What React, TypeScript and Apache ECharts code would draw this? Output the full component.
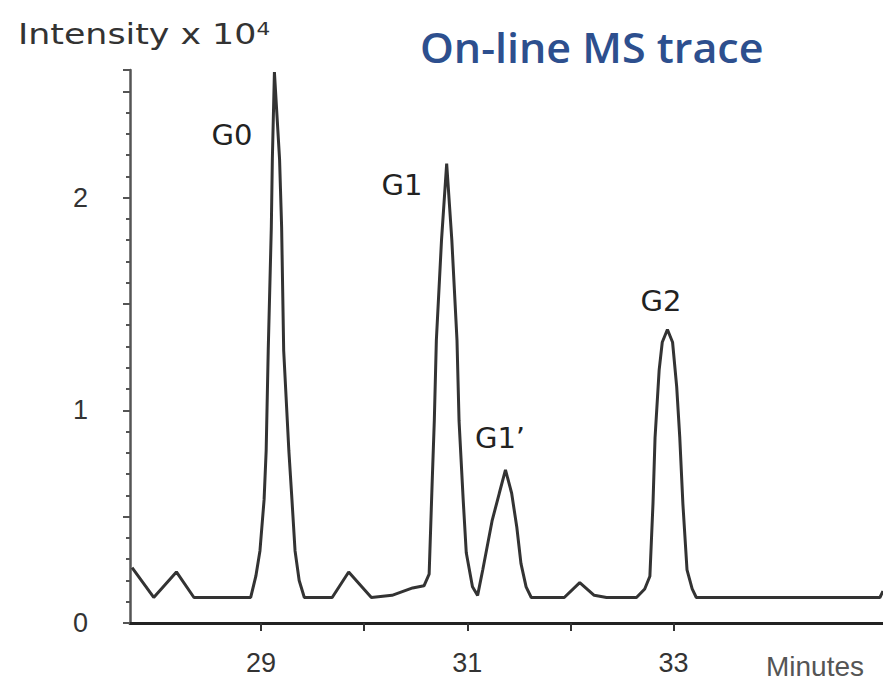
import { useEffect, useRef } from "react";
import * as echarts from "echarts";

// Retention time (minutes) vs intensity (x 10^4)
const msTrace: [number, number][] = [
  [27.75, 0.26], [27.96, 0.12], [28.18, 0.24], [28.35, 0.12], [28.9, 0.12],
  [28.95, 0.22], [28.99, 0.34], [29.03, 0.58], [29.05, 0.81], [29.07, 1.28],
  [29.1, 1.86], [29.11, 2.18], [29.13, 2.59], [29.18, 2.18], [29.2, 1.86],
  [29.22, 1.28], [29.27, 0.81], [29.3, 0.58], [29.33, 0.34], [29.37, 0.2],
  [29.42, 0.12], [29.69, 0.12], [29.85, 0.24], [30.07, 0.12], [30.27, 0.13],
  [30.47, 0.165], [30.58, 0.175], [30.63, 0.23], [30.66, 0.67], [30.68, 0.95],
  [30.7, 1.33], [30.75, 1.8], [30.8, 2.16], [30.85, 1.8], [30.9, 1.33],
  [30.92, 0.95], [30.96, 0.58], [30.99, 0.33], [31.05, 0.17], [31.1, 0.13],
  [31.15, 0.25], [31.24, 0.48], [31.31, 0.61], [31.37, 0.72], [31.43, 0.61],
  [31.48, 0.45], [31.52, 0.28], [31.57, 0.17], [31.62, 0.12], [31.94, 0.12],
  [32.09, 0.19], [32.23, 0.13], [32.35, 0.12], [32.64, 0.12], [32.72, 0.16],
  [32.77, 0.22], [32.8, 0.56], [32.82, 0.87], [32.86, 1.19], [32.89, 1.32],
  [32.94, 1.38], [32.99, 1.32], [33.03, 1.11], [33.06, 0.87], [33.09, 0.56],
  [33.13, 0.25], [33.18, 0.16], [33.22, 0.12], [35.0, 0.12], [35.03, 0.15],
];

const xTickValues = [29, 30, 31, 32, 33];
const xLabelValues = [29, 31, 33];
const yLabelValues = [0, 1, 2];
const peakNames = ["G0", "G1", "G1\u2019", "G2"];
const titleText = "On-line MS trace";
const yTitleMain = "Intensity x 10";
const yTitleExp = "4";
const xTitle = "Minutes";

const peakPos: [number, number][] = [
  [232, 135],
  [402, 185],
  [500, 438],
  [661, 301],
];

export default function App() {
  const ref = useRef<HTMLDivElement>(null);

  useEffect(() => {
    document.body.style.margin = "0";
    const chart = echarts.init(ref.current!, null, { renderer: "svg" });
    chart.setOption({
      animation: false,
      backgroundColor: "#ffffff",
      grid: { left: 130, right: 0, top: 70, bottom: 61, outerBoundsMode: "none" },
      xAxis: {
        type: "value",
        min: 27.73,
        max: 35.03,
        axisLine: { show: true, lineStyle: { color: "#222", width: 3 } },
        axisTick: {
          show: true,
          customValues: xTickValues,
          length: 8,
          lineStyle: { color: "#333", width: 2 },
        },
        axisLabel: {
          customValues: xLabelValues,
          margin: 26,
          fontSize: 27,
          color: "#333",
          fontFamily: "Liberation Sans",
        },
        splitLine: { show: false },
      },
      yAxis: {
        type: "value",
        min: 0,
        max: 2.6,
        interval: 0.5,
        axisLine: { show: true, lineStyle: { color: "#555", width: 2.5 } },
        axisTick: { show: true, length: 7, lineStyle: { color: "#555", width: 2 } },
        minorTick: { show: true, splitNumber: 5, length: 4, lineStyle: { color: "#555", width: 2 } },
        axisLabel: {
          margin: 42,
          fontSize: 27,
          color: "#333",
          fontFamily: "Liberation Sans",
          formatter: (v: number) => (yLabelValues.includes(v) ? String(v) : ""),
        },
        splitLine: { show: false },
      },
      series: [
        {
          type: "line",
          data: msTrace,
          showSymbol: false,
          symbol: "none",
          lineStyle: { color: "#333", width: 3 },
          z: 3,
        },
      ],
      graphic: [
        {
          type: "text",
          x: 420,
          y: 47,
          scaleX: 1.05,
          style: {
            text: titleText,
            fontSize: 41,
            fontWeight: 600,
            fontFamily: "Open Sans",
            fill: "#2d4f8e",
            textAlign: "left",
            textVerticalAlign: "middle",
          },
        },
        {
          type: "text",
          x: 18,
          y: 20,
          scaleX: 1.2,
          style: {
            text: `{a|${yTitleMain}}{s|${yTitleExp}}`,
            textAlign: "left",
            textVerticalAlign: "top",
            rich: {
              a: { fontSize: 29, fontFamily: "DejaVu Sans", fill: "#333" },
              s: { fontSize: 18, fontFamily: "DejaVu Sans", fill: "#333", verticalAlign: "top" },
            },
          },
        },
        ...peakNames.map((name, i) => ({
          type: "text",
          x: peakPos[i][0],
          y: peakPos[i][1],
          style: {
            text: name,
            fontSize: 29,
            fontFamily: "DejaVu Sans",
            fill: "#222",
            textAlign: "center",
            textVerticalAlign: "middle",
          },
        })),
        {
          type: "text",
          x: 815,
          y: 666,
          style: {
            text: xTitle,
            fontSize: 28,
            fontFamily: "Liberation Sans",
            fill: "#555",
            textAlign: "center",
            textVerticalAlign: "middle",
          },
        },
      ],
    });
    return () => chart.dispose();
  }, []);

  return (
    <div
      ref={ref}
      style={{ width: 883, height: 684, position: "absolute", left: 0, top: 0, background: "#fff" }}
    />
  );
}
